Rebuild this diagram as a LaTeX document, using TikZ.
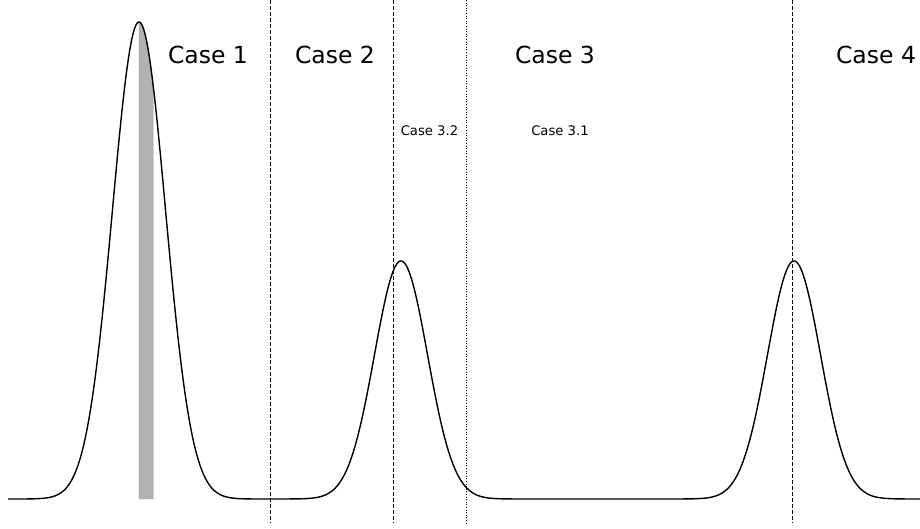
\documentclass[tikz,border=0pt]{standalone}
\usepackage{fontspec}
\setmainfont{DejaVu Sans}
\usetikzlibrary{math}

\begin{document}
\begin{tikzpicture}[x=1pt, y=1pt,
    declare function={bump(\t,\m)=exp(max(-0.5*((\t-\m)/26.5)*((\t-\m)/26.5),-20));},
    bigcase/.style={anchor=base, font=\fontsize{23.5}{28}\selectfont},
    smallcase/.style={anchor=base, font=\fontsize{13.2}{16}\selectfont},
    splitline/.style={line width=1pt, dash pattern=on 4pt off 2pt},
    subsplit/.style={line width=0.8pt, dash pattern=on 1pt off 1.6pt}]
        \useasboundingbox (0, 0) rectangle (920, 529);

        % shaded slice under the tall peak
        \fill[gray!60, draw=gray!75, line width=0.5pt] (139, 30)
            -- plot[domain=139:153, samples=30] (\x, {30 + 477*bump(\x,139) + 238*bump(\x,401)})
            -- (153, 30) -- cycle;

        \draw[line width=1.4pt, line join=round] plot[domain=8:921, samples=600]
            (\x, {30 + 477*bump(\x,139) + 238*bump(\x,401) + 238*bump(\x,794)});

        \draw[splitline] (270, 529) -- (270, 6);
        \draw[splitline] (393, 529) -- (393, 6);
        \draw[subsplit] (466.5, 529) -- (466.5, 6);
        \draw[splitline] (792, 529) -- (792, 6);

        \node[bigcase] (case1) at (208, 465) {Case 1};
        \node[bigcase] (case2) at (335, 465) {Case 2};
        \node[bigcase] (case3) at (555, 465) {Case 3};
        \node[bigcase] (case4) at (876, 465) {Case 4};
        \node[smallcase] (case32) at (429.5, 393) {Case 3.2};
        \node[smallcase] (case31) at (560, 393) {Case 3.1};
      \end{tikzpicture}
\end{document}
